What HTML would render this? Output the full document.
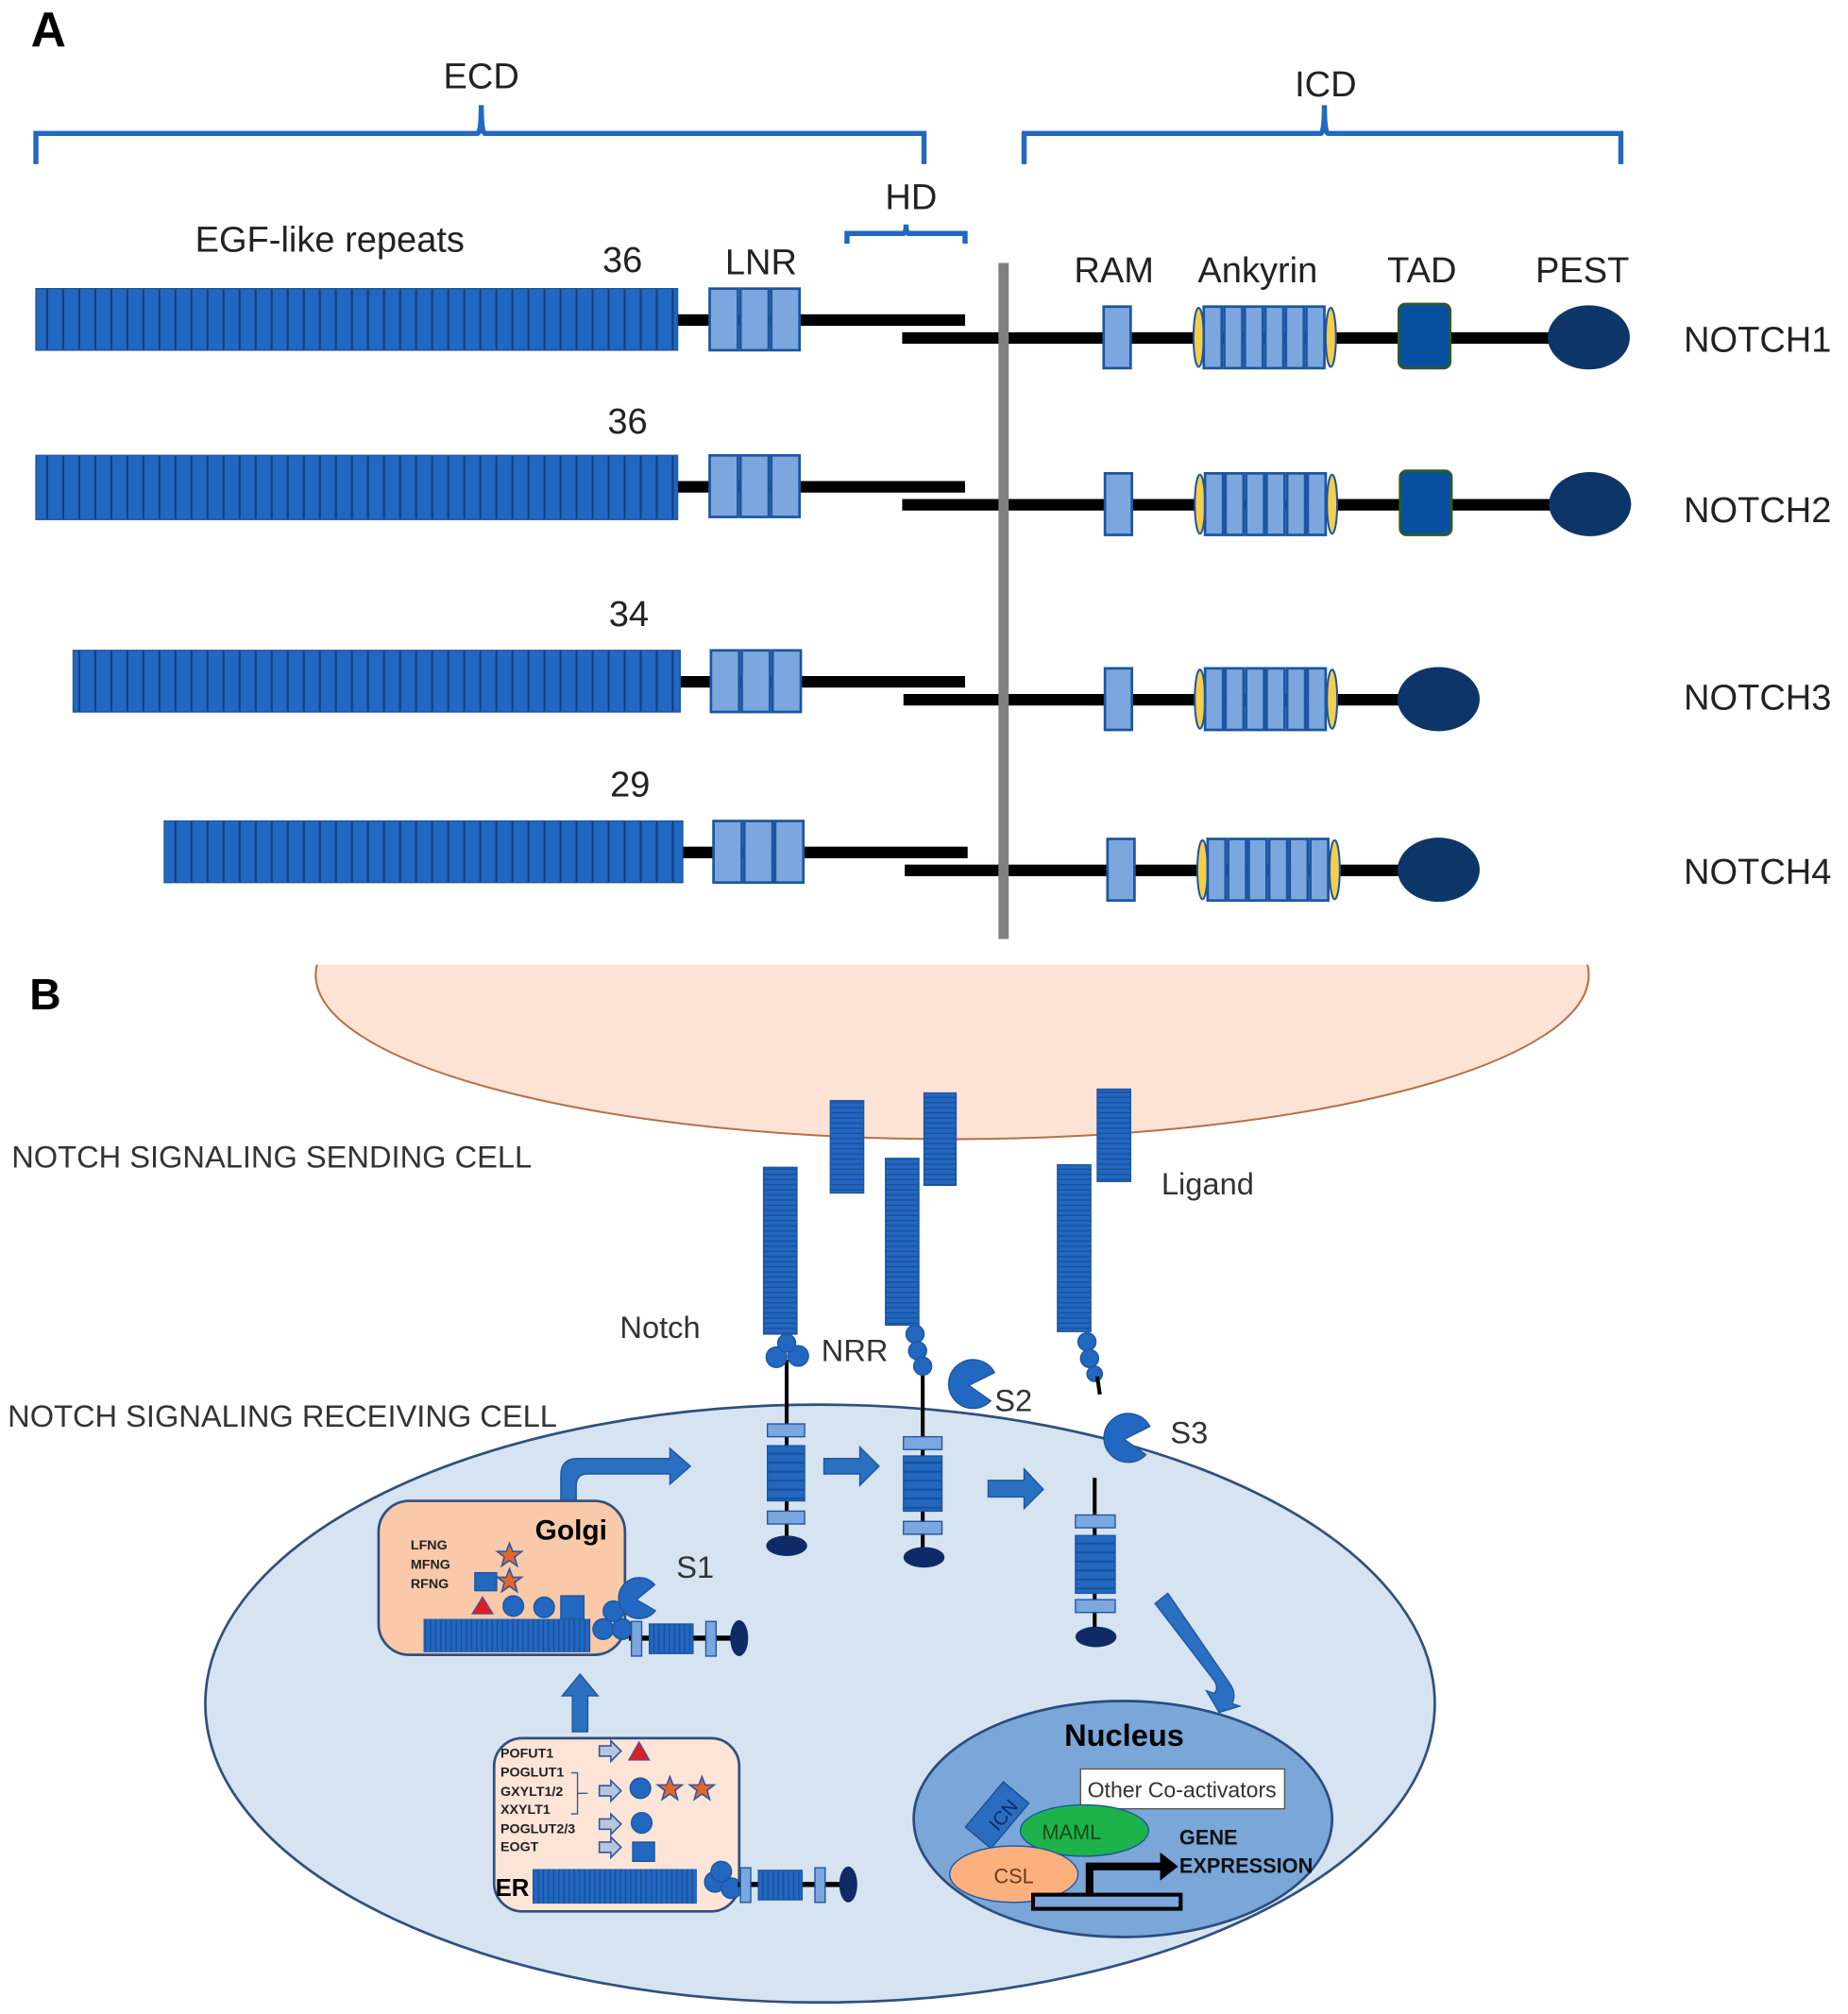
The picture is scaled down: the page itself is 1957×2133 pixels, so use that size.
<!DOCTYPE html>
<html><head><meta charset="utf-8"><style>
html,body{margin:0;padding:0;background:#fff}
svg{display:block}
text{font-family:"Liberation Sans",sans-serif}
</style></head><body>
<svg width="1957" height="2133" viewBox="0 0 1440 1570" preserveAspectRatio="none" xmlns="http://www.w3.org/2000/svg">
<defs>
<clipPath id="cl"><rect x="0" y="752" width="1440" height="400"/></clipPath>
<pattern id="egf" x="0" y="0" width="12.5" height="10" patternUnits="userSpaceOnUse">
<rect width="12.5" height="10" fill="#2267c0"/><rect x="11" width="1.5" height="10" fill="#0f3f80"/>
</pattern>
<pattern id="egfs" x="0" y="0" width="4" height="10" patternUnits="userSpaceOnUse">
<rect width="4" height="10" fill="#2267c0"/><rect x="3" width="1" height="10" fill="#184f9a"/>
</pattern>
<pattern id="hs" x="0" y="0" width="10" height="4" patternUnits="userSpaceOnUse">
<rect width="10" height="4" fill="#2267c0"/><rect y="3" width="10" height="1" fill="#184f9a"/>
</pattern>
<pattern id="hs2" x="0" y="0" width="10" height="7" patternUnits="userSpaceOnUse">
<rect width="10" height="7" fill="#2267c0"/><rect y="5.5" width="10" height="1.5" fill="#184f9a"/>
</pattern>
<g id="lnr"><rect x="0" y="0" width="22" height="48" fill="#7ba7de" stroke="#1d55a0" stroke-width="2"/><rect x="24" y="0" width="22" height="48" fill="#7ba7de" stroke="#1d55a0" stroke-width="2"/><rect x="48" y="0" width="22" height="48" fill="#7ba7de" stroke="#1d55a0" stroke-width="2"/></g>
<g id="ank">
<ellipse cx="5" cy="24" rx="4" ry="23" fill="#f5cf4a" stroke="#1d55a0" stroke-width="1.5"/>
<ellipse cx="108" cy="24" rx="4" ry="23" fill="#f5cf4a" stroke="#1d55a0" stroke-width="1.5"/>
<rect x="9" y="0" width="14" height="48" fill="#7ba7de" stroke="#1d55a0" stroke-width="2"/>
<rect x="25" y="0" width="14" height="48" fill="#7ba7de" stroke="#1d55a0" stroke-width="2"/>
<rect x="41" y="0" width="14" height="48" fill="#7ba7de" stroke="#1d55a0" stroke-width="2"/>
<rect x="57" y="0" width="14" height="48" fill="#7ba7de" stroke="#1d55a0" stroke-width="2"/>
<rect x="73" y="0" width="14" height="48" fill="#7ba7de" stroke="#1d55a0" stroke-width="2"/>
<rect x="89" y="0" width="14" height="48" fill="#7ba7de" stroke="#1d55a0" stroke-width="2"/>
</g>
<g id="mini">
<line x1="0" y1="0" x2="92" y2="0" stroke="#000" stroke-width="4"/>
<rect x="2" y="-13" width="8" height="27" fill="#7ba7de" stroke="#1d55a0"/>
<rect x="16" y="-11" width="34" height="23" fill="url(#egfs)" stroke="#1d55a0"/>
<rect x="60" y="-13" width="8" height="27" fill="#7ba7de" stroke="#1d55a0"/>
<ellipse cx="86" cy="0" rx="7" ry="14" fill="#0f2a66"/>
</g>
</defs>

<!-- Part B background ellipse (clipped) -->
<ellipse cx="742" cy="760" rx="496" ry="128" fill="#fde3d5" stroke="#b5704a" stroke-width="1.5" clip-path="url(#cl)"/>

<!-- Part A -->
<text x="24" y="36" font-size="38" font-weight="bold">A</text>
<g fill="none" stroke="#2267c0" stroke-width="4">
<path d="M28,128 V104 H372 Q375,104 375,82 Q375,104 378,104 H720 V128"/>
<path d="M798,128 V104 H1029 Q1032,104 1032,82 Q1032,104 1035,104 H1263 V128"/>
<path d="M660,190 V182 H704 Q706,182 706,175 Q706,182 708,182 H752 V190"/>
</g>
<g font-size="28" fill="#222" text-anchor="middle">
<text x="375" y="69">ECD</text><text x="1033" y="75">ICD</text><text x="710" y="163">HD</text>
<text x="257" y="196">EGF-like repeats</text>
<text x="485" y="212">36</text><text x="593" y="214">LNR</text>
<text x="868" y="220">RAM</text><text x="980" y="220">Ankyrin</text><text x="1108" y="220">TAD</text><text x="1233" y="220">PEST</text>
<text x="489" y="338">36</text><text x="490" y="488">34</text><text x="491" y="621">29</text>
</g>
<g font-size="28" fill="#222">
<text x="1312" y="274">NOTCH1</text><text x="1312" y="407">NOTCH2</text><text x="1312" y="553">NOTCH3</text><text x="1312" y="689">NOTCH4</text>
</g>

<!-- NOTCH1 -->
<rect x="528" y="245" width="224" height="9" fill="#000"/>
<rect x="703" y="259" width="537" height="9" fill="#000"/>
<rect x="28" y="225" width="500" height="48" fill="url(#egf)" stroke="#1d55a0"/>
<use href="#lnr" x="553" y="225"/>
<rect x="860" y="239" width="21" height="48" fill="#7ba7de" stroke="#1d55a0" stroke-width="2"/>
<use href="#ank" x="929" y="239"/>
<rect x="1090" y="237" width="40" height="50" rx="5" fill="#0a50a0" stroke="#2d5a2a" stroke-width="2"/>
<ellipse cx="1238" cy="263" rx="32" ry="25" fill="#0d3568"/>
<!-- NOTCH2 -->
<rect x="528" y="375" width="224" height="9" fill="#000"/>
<rect x="703" y="389" width="537" height="9" fill="#000"/>
<rect x="28" y="355" width="500" height="50" fill="url(#egf)" stroke="#1d55a0"/>
<use href="#lnr" x="553" y="355"/>
<rect x="861" y="369" width="21" height="48" fill="#7ba7de" stroke="#1d55a0" stroke-width="2"/>
<use href="#ank" x="930" y="369"/>
<rect x="1091" y="367" width="40" height="50" rx="5" fill="#0a50a0" stroke="#2d5a2a" stroke-width="2"/>
<ellipse cx="1239" cy="393" rx="32" ry="25" fill="#0d3568"/>
<!-- NOTCH3 -->
<rect x="530" y="527" width="222" height="9" fill="#000"/>
<rect x="704" y="541" width="400" height="9" fill="#000"/>
<rect x="57" y="507" width="473" height="48" fill="url(#egf)" stroke="#1d55a0"/>
<use href="#lnr" x="554" y="507"/>
<rect x="861" y="521" width="21" height="48" fill="#7ba7de" stroke="#1d55a0" stroke-width="2"/>
<use href="#ank" x="930" y="521"/>
<ellipse cx="1121" cy="545" rx="32" ry="25" fill="#0d3568"/>
<!-- NOTCH4 -->
<rect x="532" y="660" width="222" height="9" fill="#000"/>
<rect x="705" y="674" width="400" height="9" fill="#000"/>
<rect x="128" y="640" width="404" height="48" fill="url(#egf)" stroke="#1d55a0"/>
<use href="#lnr" x="556" y="640"/>
<rect x="863" y="654" width="21" height="48" fill="#7ba7de" stroke="#1d55a0" stroke-width="2"/>
<use href="#ank" x="932" y="654"/>
<ellipse cx="1121" cy="678" rx="32" ry="25" fill="#0d3568"/>
<rect x="778" y="205" width="8" height="527" fill="#808080"/>

<!-- Part B -->
<text x="23" y="787" font-size="34" font-weight="bold">B</text>
<ellipse cx="639" cy="1328" rx="479" ry="233" fill="#d6e3f1" stroke="#30507e" stroke-width="2"/>
<g font-size="24" fill="#333">
<text x="9" y="910">NOTCH SIGNALING SENDING CELL</text>
<text x="6" y="1112">NOTCH SIGNALING RECEIVING CELL</text>
<text x="905" y="931">Ligand</text>
<text x="483" y="1043">Notch</text>
<text x="640" y="1061">NRR</text>
<text x="775" y="1100">S2</text>
<text x="912" y="1125">S3</text>
<text x="527" y="1230">S1</text>
</g>
<!-- ligands and ECD -->
<g stroke="#1d55a0">
<rect x="647" y="858" width="26" height="72" fill="url(#hs)"/>
<rect x="720" y="852" width="25" height="72" fill="url(#hs)"/>
<rect x="855" y="849" width="26" height="72" fill="url(#hs)"/>
<rect x="595" y="910" width="26" height="130" fill="url(#hs)"/>
<rect x="690" y="903" width="26" height="130" fill="url(#hs)"/>
<rect x="824" y="908" width="26" height="130" fill="url(#hs)"/>
</g>
<!-- Notch 1 receptor -->
<line x1="613" y1="1060" x2="613" y2="1205" stroke="#000" stroke-width="3"/>
<g fill="#2267c0" stroke="#1d55a0">
<circle cx="605" cy="1058" r="8"/><circle cx="622" cy="1057" r="8"/><circle cx="613" cy="1047" r="7"/>
<rect x="598" y="1110" width="29" height="10" fill="#7ba7de"/>
<rect x="598" y="1127" width="29" height="43" fill="url(#hs2)"/>
<rect x="598" y="1178" width="29" height="10" fill="#7ba7de"/>
</g>
<ellipse cx="613" cy="1205" rx="16" ry="8" fill="#0f2a66"/>
<!-- Notch 2 -->
<line x1="719" y1="1065" x2="719" y2="1213" stroke="#000" stroke-width="3"/>
<g fill="#2267c0" stroke="#1d55a0">
<circle cx="713" cy="1040" r="7"/><circle cx="715" cy="1053" r="7"/><circle cx="719" cy="1065" r="7"/>
<rect x="704" y="1120" width="30" height="10" fill="#7ba7de"/>
<rect x="704" y="1135" width="30" height="43" fill="url(#hs2)"/>
<rect x="704" y="1186" width="30" height="10" fill="#7ba7de"/>
</g>
<ellipse cx="720" cy="1214" rx="16" ry="8" fill="#0f2a66"/>
<path d="M755,1080 L775,1070 A19,19 0 1 0 772,1092 Z" fill="#2267c0" stroke="#1d55a0"/>
<!-- Notch 3 -->
<g fill="#2267c0" stroke="#1d55a0">
<circle cx="847" cy="1046" r="7"/><circle cx="849" cy="1059" r="7"/><circle cx="853" cy="1071" r="6"/>
</g>
<line x1="855" y1="1073" x2="857" y2="1087" stroke="#000" stroke-width="3"/>
<path d="M876,1122 L896,1112 A19,19 0 1 0 893,1134 Z" fill="#2267c0" stroke="#1d55a0"/>
<line x1="853" y1="1152" x2="853" y2="1275" stroke="#000" stroke-width="3"/>
<g stroke="#1d55a0">
<rect x="838" y="1181" width="31" height="10" fill="#7ba7de"/>
<rect x="838" y="1197" width="31" height="45" fill="url(#hs2)"/>
<rect x="838" y="1247" width="31" height="10" fill="#7ba7de"/>
</g>
<ellipse cx="854" cy="1276" rx="16" ry="8" fill="#0f2a66"/>
<!-- block arrows -->
<g fill="#2a6fc0" stroke="#1d55a0">
<path d="M642,1137 H670 V1128 L685,1143 L670,1158 V1149 H642 Z"/>
<path d="M770,1154 H798 V1145 L813,1161 L798,1176 V1167 H770 Z"/>
<path d="M437,1170 V1150 Q437,1137 450,1137 H522 V1129 L538,1143 L522,1157 V1149 H458 Q449,1149 449,1158 V1170 Z"/>
<path d="M446,1350 V1322 H438 L452,1305 L466,1322 H458 V1350 Z"/>
<path d="M900,1250 L910,1242 L958,1312 Q964,1320 960,1328 L966,1330 L950,1335 L940,1318 L946,1320 Q950,1316 946,1310 Z"/>
</g>
<!-- Golgi -->
<rect x="295" y="1170" width="192" height="120" rx="24" fill="#f9c9a9" stroke="#30507e" stroke-width="2"/>
<text x="445" y="1200" font-size="22" font-weight="bold" text-anchor="middle">Golgi</text>
<g font-size="10.5" font-weight="bold" fill="#222"><text x="320" y="1208">LFNG</text><text x="320" y="1223">MFNG</text><text x="320" y="1238">RFNG</text></g>
<rect x="330" y="1262" width="130" height="26" fill="url(#egfs)"/>
<g fill="#2267c0" stroke="#1d55a0">
<rect x="370" y="1226" width="17" height="14"/>
<circle cx="400" cy="1252" r="8"/><circle cx="424" cy="1253" r="8"/><rect x="437" y="1244" width="18" height="18"/>
<circle cx="470" cy="1270" r="8"/><circle cx="485" cy="1270" r="8"/><circle cx="478" cy="1256" r="8"/>
</g>
<path d="M368,1258 L384,1258 L376,1245 Z" fill="#dd1f1f" stroke="#5a4aa0"/>
<g fill="#e8642a" stroke="#2c5aa0" stroke-width="1.2">
<path d="M397,1203 l2.5,6.5 h7 l-5.5,4.2 2,7 -6,-4.2 -6,4.2 2,-7 -5.5,-4.2 h7 z"/>
<path d="M397,1223 l2.5,6.5 h7 l-5.5,4.2 2,7 -6,-4.2 -6,4.2 2,-7 -5.5,-4.2 h7 z"/>
</g>
<path d="M496,1247 L512,1238 A16,16 0 1 0 509,1258 Z" fill="#2267c0" stroke="#1d55a0" transform="rotate(-10 496 1247)"/>
<use href="#mini" x="490" y="1277"/>
<!-- ER -->
<rect x="385" y="1355" width="191" height="135" rx="22" fill="#fde4d6" stroke="#30507e" stroke-width="2"/>
<g font-size="10.5" font-weight="bold" fill="#222">
<text x="390" y="1370">POFUT1</text><text x="390" y="1385">POGLUT1</text><text x="390" y="1400">GXYLT1/2</text><text x="390" y="1414">XXYLT1</text><text x="390" y="1429">POGLUT2/3</text><text x="390" y="1443">EOGT</text>
</g>
<path d="M445,1382 h5 v32 h-5 M450,1398 h8" fill="none" stroke="#2c5aa0" stroke-width="1"/>
<g fill="#b8c6dc" stroke="#2c5aa0" stroke-width="1.2">
<path d="M467,1361 h9 v-4 l8,8 -8,8 v-4 h-9 z"/>
<path d="M467,1392 h9 v-4 l8,8 -8,8 v-4 h-9 z"/>
<path d="M467,1418 h9 v-4 l8,8 -8,8 v-4 h-9 z"/>
<path d="M467,1436 h9 v-4 l8,8 -8,8 v-4 h-9 z"/>
</g>
<path d="M490,1372 h16 l-8,-14 z" fill="#dd1f1f" stroke="#5a4aa0"/>
<g fill="#2267c0" stroke="#1d55a0">
<circle cx="499" cy="1394" r="8"/><circle cx="500" cy="1421" r="8"/><rect x="493" y="1436" width="17" height="15"/>
<circle cx="557" cy="1467" r="8"/><circle cx="570" cy="1472" r="8"/><circle cx="562" cy="1459" r="8"/>
</g>
<g fill="#e8642a" stroke="#2c5aa0" stroke-width="1.2">
<path d="M522,1385 l2.5,6.5 h7 l-5.5,4.2 2,7 -6,-4.2 -6,4.2 2,-7 -5.5,-4.2 h7 z"/>
<path d="M547,1385 l2.5,6.5 h7 l-5.5,4.2 2,7 -6,-4.2 -6,4.2 2,-7 -5.5,-4.2 h7 z"/>
</g>
<text x="386" y="1478" font-size="19" font-weight="bold">ER</text>
<rect x="415" y="1457" width="128" height="27" fill="url(#egfs)"/>
<use href="#mini" x="575" y="1469"/>
<!-- Nucleus -->
<ellipse cx="875" cy="1418" rx="163" ry="92" fill="#7aa6d8" stroke="#2a4d80" stroke-width="2"/>
<text x="876" y="1361" font-size="24" font-weight="bold" text-anchor="middle">Nucleus</text>
<rect x="842" y="1379" width="159" height="31" fill="#fff" stroke="#555"/>
<text x="921" y="1401" font-size="17" text-anchor="middle" fill="#333">Other Co-activators</text>
<rect x="764" y="1392" width="26" height="46" fill="#2a6cc0" stroke="#1d4a90" transform="rotate(40 777 1415)"/>
<text x="782" y="1420" font-size="15" fill="#0f2a66" text-anchor="middle" transform="rotate(-50 782 1415)">ICN</text>
<ellipse cx="845" cy="1427" rx="50" ry="20" fill="#1db34a" stroke="#1d55a0"/>
<text x="835" y="1434" font-size="16" fill="#124a20" text-anchor="middle">MAML</text>
<ellipse cx="790" cy="1461" rx="50" ry="22" fill="#fbb07e" stroke="#1d55a0"/>
<text x="790" y="1468" font-size="16" fill="#6b3a1a" text-anchor="middle">CSL</text>
<rect x="805" y="1477" width="115" height="11" fill="#7ba7de" stroke="#000" stroke-width="3"/>
<path d="M846,1476 V1452 H904 V1444 L918,1455 L904,1466 V1458 H852 V1476 Z" fill="#000"/>
<g font-size="16" font-weight="bold" fill="#111"><text x="919" y="1438">GENE</text><text x="919" y="1460">EXPRESSION</text></g>
</svg>
</body></html>
